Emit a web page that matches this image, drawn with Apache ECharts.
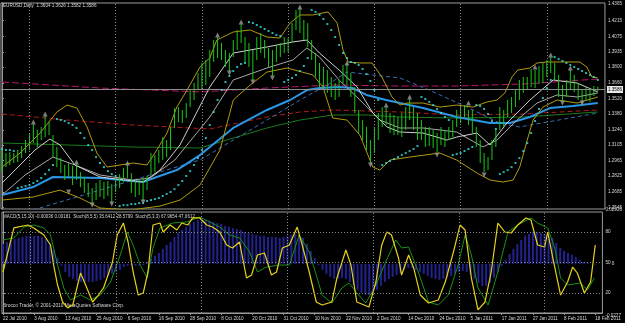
<!DOCTYPE html>
<html>
<head>
<meta charset="utf-8">
<script src="https://cdn.jsdelivr.net/npm/echarts@6/dist/echarts.min.js"></script>
<style>
  html, body { margin: 0; padding: 0; background: #000; }
  #chart { width: 625px; height: 323px; }
</style>
</head>
<body>
<div id="chart"></div>
<script>
/* EURUSD Daily — MT4 style chart, price panel + MACD/Stochastic panel */

// ---- price bars (one per trading day, index 0 = 22 Jul 2010) ----
const barHigh = [
  1.3059,1.3032,1.3041,1.3032,1.3059,1.3095,1.3148,1.3211,1.3291,1.3238,
  1.3265,1.3363,1.3309,1.3193,1.3086,1.2987,1.2925,1.2943,1.2916,1.2934,
  1.2862,1.2818,1.2764,1.2719,1.2764,1.2791,1.2773,1.2782,1.2755,1.2809,
  1.2844,1.2898,1.2925,1.2853,1.2791,1.2791,1.2809,1.2827,1.3032,1.3014,
  1.3059,1.3175,1.3148,1.3265,1.3434,1.3443,1.3417,1.3479,1.3595,1.3658,
  1.3747,1.3837,1.3864,1.3953,1.4042,1.4069,1.4016,1.3953,1.3926,1.4042,
  1.4132,1.4185,1.4069,1.4016,1.3953,1.4069,1.4105,1.4042,1.3971,1.3953,
  1.3998,1.4016,1.4069,1.4060,1.4194,1.4311,1.4320,1.4221,1.4194,1.4042,
  1.3926,1.3837,1.3801,1.3774,1.3712,1.3658,1.3685,1.3819,1.3837,1.3747,
  1.3622,1.3417,1.3327,1.3265,1.3148,1.3265,1.3390,1.3443,1.3443,1.3390,
  1.3372,1.3354,1.3390,1.3443,1.3515,1.3443,1.3390,1.3327,1.3265,1.3265,
  1.3238,1.3211,1.3265,1.3238,1.3265,1.3327,1.3417,1.3443,1.3461,1.3417,
  1.3417,1.3265,1.3148,1.3032,1.2996,1.3148,1.3238,1.3443,1.3417,1.3506,
  1.3533,1.3595,1.3685,1.3712,1.3712,1.3783,1.3774,1.3810,1.3837,1.3864,
  1.3890,1.3837,1.3730,1.3640,1.3685,1.3774,1.3730,1.3658,1.3595,1.3622,
  1.3613,1.3631,1.3626
];
const barLow = [
  1.2862,1.2907,1.2925,1.2943,1.2952,1.2987,1.3032,1.3059,1.3121,1.3086,
  1.3148,1.3175,1.3193,1.2996,1.2907,1.2853,1.2791,1.2818,1.2746,1.2791,
  1.2728,1.2675,1.2639,1.2576,1.2612,1.2639,1.2621,1.2648,1.2585,1.2684,
  1.2719,1.2773,1.2809,1.2675,1.2639,1.2657,1.2603,1.2701,1.2836,1.2862,
  1.2943,1.2970,1.2996,1.3059,1.3256,1.3309,1.3300,1.3345,1.3443,1.3506,
  1.3595,1.3595,1.3640,1.3712,1.3846,1.3881,1.3864,1.3801,1.3765,1.3890,
  1.3953,1.4016,1.3846,1.3801,1.3685,1.3864,1.3926,1.3881,1.3792,1.3721,
  1.3846,1.3890,1.3926,1.3935,1.4016,1.4132,1.4105,1.4042,1.3980,1.3864,
  1.3712,1.3622,1.3622,1.3569,1.3533,1.3506,1.3533,1.3658,1.3640,1.3533,
  1.3390,1.3211,1.3148,1.3059,1.2943,1.3032,1.3148,1.3265,1.3283,1.3211,
  1.3193,1.3193,1.3175,1.3238,1.3327,1.3238,1.3148,1.3148,1.3086,1.3095,
  1.3077,1.3041,1.3104,1.3086,1.3148,1.3175,1.3265,1.3300,1.3354,1.3283,
  1.3211,1.3086,1.2943,1.2862,1.2880,1.2970,1.3086,1.3238,1.3265,1.3354,
  1.3390,1.3443,1.3506,1.3569,1.3595,1.3622,1.3613,1.3649,1.3658,1.3712,
  1.3747,1.3685,1.3533,1.3497,1.3533,1.3595,1.3578,1.3506,1.3461,1.3506,
  1.3488,1.3542,1.3582
];
const currentPrice = 1.3586;

// parabolic SAR, one dot per bar
const sarValues = [
  1.3068,1.3059,1.3059,1.3050,1.2719,1.2728,1.2737,1.2746,1.2764,1.2782,
  1.2809,1.2844,1.2880,1.2925,1.3336,1.3327,1.3318,1.3300,1.3283,1.3256,
  1.3211,1.3166,1.3104,1.3059,1.2996,1.2943,1.2907,1.2871,1.2844,1.2827,
  1.2558,1.2567,1.2567,1.2576,1.2576,1.2585,1.2585,1.2603,1.2612,1.2621,
  1.2630,1.2648,1.2666,1.2684,1.2710,1.2746,1.2782,1.2827,1.2871,1.2925,
  1.2987,1.3059,1.3166,1.3283,1.3399,1.3506,1.3595,1.3667,1.3721,1.3765,
  1.3801,1.3828,1.3837,1.4203,1.4194,1.4176,1.4159,1.4141,1.4123,1.4105,
  1.4087,1.4078,1.3667,1.3685,1.3703,1.3730,1.3765,1.3810,1.3881,1.4311,
  1.4293,1.4266,1.4230,1.4185,1.4132,1.4069,1.3998,1.3926,1.3881,1.3846,
  1.3837,1.3819,1.3783,1.3738,1.3676,1.3595,1.3506,1.2925,1.2943,1.2961,
  1.2979,1.2996,1.3014,1.3032,1.3050,1.3068,1.3095,1.3533,1.3515,1.3488,
  1.3461,1.3426,1.3390,1.3354,1.3327,1.3014,1.3023,1.3032,1.3050,1.3068,
  1.3086,1.3461,1.3452,1.3426,1.3381,1.3318,1.3247,1.2844,1.2862,1.2880,
  1.2907,1.2943,1.2987,1.3050,1.3121,1.3211,1.3318,1.3426,1.3524,1.3613,
  1.3685,1.3890,1.3873,1.3855,1.3837,1.3819,1.3801,1.3783,1.3765,1.3747,
  1.3730,1.3712,1.3685
];

// fractal arrows [bar index, price]
const fractalUp = [
  [8,1.3309],[11,1.3381],[19,1.2952],[32,1.2943],[55,1.4087],[61,1.4203],
  [76,1.4337],[88,1.3837],[98,1.3461],[104,1.3533],[119,1.3479],[136,1.3801],
  [140,1.3908],[145,1.3792]
];
const fractalDown = [
  [17,1.2684],[23,1.2567],[28,1.2576],[36,1.2594],[58,1.3747],[64,1.3667],
  [69,1.3703],[94,1.2925],[111,1.3014],[123,1.2836],[143,1.3479],[148,1.3479]
];

// indicator lines [bar index, price]
const bandUpper = [
  [0,1.2907],[4.6,1.3032],[9.7,1.3211],[14,1.3399],[16.6,1.3461],[19.1,1.3434],
  [21.7,1.3265],[24.2,1.3032],[26.8,1.2907],[30.1,1.2925],[33.4,1.2943],[37,1.2925],
  [39.5,1.3059],[42.1,1.3211],[44.6,1.3443],[47.2,1.3595],[50.5,1.3801],[53,1.3881],
  [54.8,1.4042],[59,1.4114],[63.3,1.4132],[67.6,1.4069],[70.9,1.4060],[73.5,1.4194],
  [76,1.4266],[79.3,1.4266],[83.2,1.4293],[85.5,1.4194],[87,1.3953],[88.3,1.3846],
  [91.3,1.3837],[94.4,1.3837],[96.9,1.3712],[99.5,1.3533],[101.5,1.3461],[103.3,1.3479],
  [107.4,1.3479],[111.7,1.3443],[116,1.3461],[120.2,1.3443],[123.7,1.3488],[126.3,1.3506],
  [128.3,1.3569],[130.1,1.3712],[131.6,1.3774],[134.7,1.3792],[136.5,1.3837],[139,1.3846],
  [143.1,1.3846],[147.4,1.3846],[149.2,1.3801],[150.5,1.3712],[152,1.3703]
];
const bandLower = [
  [0,1.2612],[7.9,1.2639],[14.8,1.2701],[19.9,1.2630],[25,1.2541],[32.7,1.2523],
  [40.3,1.2558],[45.4,1.2612],[50.5,1.2746],[55.6,1.3059],[59,1.3506],[63.3,1.3640],
  [67.6,1.3756],[72.7,1.3792],[79.3,1.3730],[81.9,1.3622],[84.4,1.3345],[88,1.3327],
  [91.3,1.3193],[94.6,1.2907],[96.4,1.2880],[99,1.2970],[104,1.2996],[111.7,1.3032],
  [116,1.2970],[121.2,1.2853],[124.5,1.2791],[127.8,1.2773],[130.4,1.2791],[132.1,1.2907],
  [134,1.3148],[135.5,1.3327],[138,1.3443],[141.6,1.3506],[146.7,1.3479],[152,1.3533]
];
const maFast = [
  [0,1.2764],[4.6,1.2925],[8.4,1.3059],[12.2,1.3157],[14.8,1.3104],[18.6,1.2925],
  [25,1.2818],[31.4,1.2791],[36,1.2773],[40.3,1.2880],[45.4,1.3104],[53,1.3622],
  [59,1.3926],[67.6,1.3980],[74.2,1.4025],[77.8,1.4042],[81,1.3926],[86,1.3774],
  [90.6,1.3622],[94.6,1.3390],[98.2,1.3265],[101.5,1.3220],[107.4,1.3211],[113.5,1.3148],
  [116,1.3175],[121.2,1.3211],[124.5,1.3104],[128.8,1.3300],[134.7,1.3506],[140.6,1.3685],
  [146.7,1.3658],[152,1.3578]
];
const maSlow = [
  [0,1.2657],[5.9,1.2836],[13,1.2996],[18.6,1.2925],[25,1.2836],[33.4,1.2791],
  [37.8,1.2809],[44.1,1.2970],[53,1.3354],[59,1.3685],[67.6,1.3792],[74.2,1.3864],
  [77.8,1.3971],[81,1.3890],[86,1.3685],[91.3,1.3506],[96.4,1.3327],[101.5,1.3256],
  [107.4,1.3256],[116,1.3220],[122.7,1.3086],[126.3,1.3148],[131.4,1.3327],[136.5,1.3479],
  [141.6,1.3551],[146.7,1.3533],[152,1.3569]
];
const maBlue = [
  [0,1.2657],[7.9,1.2728],[13,1.2818],[25,1.2809],[36,1.2773],[39.5,1.2818],
  [44.6,1.2880],[50.5,1.3014],[59,1.3256],[67.6,1.3417],[73.5,1.3506],[77.8,1.3595],
  [81,1.3613],[86,1.3622],[89.5,1.3613],[93,1.3551],[98,1.3506],[101.5,1.3479],
  [107.4,1.3434],[116,1.3354],[124.5,1.3300],[129.6,1.3300],[134.7,1.3354],[139.8,1.3434],
  [145.7,1.3452],[152,1.3479]
];
const maGreen = [
  [0,1.3122],[16.6,1.3104],[33.4,1.3086],[50.5,1.3077],[59,1.3166],[67.6,1.3256],
  [76,1.3327],[84.4,1.3372],[93,1.3372],[101.5,1.3354],[116,1.3345],[133,1.3354],
  [152,1.3399]
];
const maRed = [
  [0,1.3381],[16.6,1.3327],[33.4,1.3283],[53,1.3247],[67.6,1.3354],[76,1.3399],
  [84.4,1.3417],[101.5,1.3399],[116,1.3372],[133,1.3381],[152,1.3417]
];
const maMagenta = [
  [0,1.3667],[25,1.3613],[50.5,1.3578],[67.6,1.3613],[84.4,1.3640],[101.5,1.3631],
  [116,1.3631],[133,1.3649],[152,1.3694]
];
const maSteel = [
  [7.9,1.2523],[25,1.2701],[50.5,1.2970],[59,1.3148],[67.6,1.3327],[76,1.3506],
  [83,1.3640],[88,1.3756],[101.5,1.3703],[109,1.3595],[118.6,1.3443],[127,1.3300],
  [132,1.3265],[142,1.3327],[152,1.3390]
];

// ---- lower panel ----
const macdHist = [
  0.0113,0.0124,0.0135,0.0141,0.0147,0.0152,0.0158,0.0158,0.0158,0.0158,
  0.0152,0.0141,0.0118,0.0079,0.0034,-0.0011,-0.0045,-0.0073,-0.0085,-0.0096,
  -0.0102,-0.0102,-0.0102,-0.0102,-0.0096,-0.0090,-0.0079,-0.0068,-0.0056,-0.0045,
  -0.0034,-0.0017,-0.0011,-0.0006,-0.0011,-0.0011,-0.0006,0.0011,0.0028,0.0045,
  0.0062,0.0085,0.0107,0.0124,0.0152,0.0175,0.0192,0.0209,0.0226,0.0237,
  0.0248,0.0254,0.0248,0.0243,0.0237,0.0231,0.0226,0.0214,0.0209,0.0203,
  0.0197,0.0192,0.0180,0.0175,0.0169,0.0164,0.0158,0.0158,0.0152,0.0152,
  0.0152,0.0147,0.0152,0.0158,0.0164,0.0169,0.0164,0.0147,0.0113,0.0073,
  0.0034,-0.0006,-0.0034,-0.0056,-0.0073,-0.0085,-0.0085,-0.0079,-0.0085,-0.0102,
  -0.0124,-0.0147,-0.0164,-0.0175,-0.0175,-0.0164,-0.0147,-0.0124,-0.0102,-0.0085,
  -0.0073,-0.0062,-0.0051,-0.0034,-0.0023,-0.0023,-0.0034,-0.0045,-0.0056,-0.0068,
  -0.0079,-0.0085,-0.0090,-0.0085,-0.0079,-0.0068,-0.0056,-0.0045,-0.0039,-0.0045,
  -0.0062,-0.0085,-0.0107,-0.0124,-0.0124,-0.0107,-0.0079,-0.0045,-0.0011,0.0023,
  0.0056,0.0085,0.0113,0.0135,0.0158,0.0169,0.0180,0.0180,0.0175,0.0169,
  0.0164,0.0147,0.0118,0.0090,0.0073,0.0062,0.0051,0.0039,0.0023,0.0011,
  0.0006,0.0001,-0.0004
];
const stochFast = [
  [0,40.6],[2.8,84.2],[6.4,87.1],[7.9,84.2],[10.5,77.2],[12.2,67.3],[13,47.5],
  [14,27.7],[15.3,10.9],[16.6,5],[17.9,7.9],[19.9,39.6],[21.2,27.7],[23,10.9],
  [24.5,17.8],[25.8,24.8],[28.1,50.5],[29.3,77.2],[30.9,89.1],[32.1,70.3],[33.4,40.6],
  [34.7,17.8],[36,19.8],[37.2,40.6],[38.5,87.1],[40.3,89.1],[41.1,80.2],[42.9,87.1],
  [44.6,82.2],[45.9,89.1],[47.4,87.1],[48.7,94.1],[50.5,94.1],[52.3,87.1],[53.8,85.1],
  [55.6,80.2],[57.4,67.3],[58.9,64.4],[60.7,70.3],[62.5,34.7],[63.8,37.6],[65.3,57.4],
  [67.1,59.4],[68.9,37.6],[70.2,40.6],[71.7,64.4],[73.5,67.3],[75.5,85.1],[76.8,67.3],
  [78.6,40.6],[80.4,10.9],[81.9,7.9],[84.4,10.9],[85.7,34.7],[88,62.4],[89.3,47.5],
  [90.8,10.9],[93.9,5.9],[95.7,30.7],[97.2,67.3],[98.5,80.2],[99.7,77.2],[101.5,54.5],
  [102.3,37.6],[104.1,57.4],[105.4,44.6],[107.1,17.8],[109.2,9.9],[111.7,12.9],[113.5,30.7],
  [115.6,60.4],[117.3,87.1],[118.6,82.2],[120.2,34.7],[121.9,3],[123.7,10.9],[125.3,40.6],
  [127,89.1],[128.8,80.2],[130.4,79.2],[132.1,87.1],[134.2,94.1],[135.5,92.1],[137.2,67.3],
  [139,65.3],[139.8,80.2],[141.1,54.5],[143.1,17.8],[144.9,30.7],[146.2,45.5],[147.4,39.6],
  [149.2,19.8],[150.8,30.7],[152,67.3]
];
const stochSlow = [
  [0,72.3],[2.8,74.3],[5.4,85.1],[7.9,87.1],[10.5,84.2],[12.2,77.2],[14,47.5],
  [15.6,24.8],[17.3,12.9],[19.9,17.8],[22.4,12.9],[25,17.8],[27.6,30.7],[30.1,57.4],
  [31.9,80.2],[33.4,67.3],[35.2,47.5],[37,34.7],[38.5,64.4],[40.3,84.2],[43.6,89.1],
  [47.2,90.1],[50.5,95],[53.1,90.1],[55.6,85.1],[58.2,77.2],[60.7,74.3],[63.3,60.4],
  [65.3,40.6],[67.6,45.5],[70.9,47.5],[73.5,47.5],[76,77.2],[78.6,60.4],[80.4,37.6],
  [81.9,17.8],[84.4,9.9],[87,24.8],[88.8,29.7],[90.6,20.8],[93.1,9.9],[95.7,27.7],
  [98.2,50.5],[100.8,72.3],[102.3,64.4],[104.1,65.3],[106.6,40.6],[109.2,10.9],[111.7,7.9],
  [114.3,17.8],[116.8,47.5],[118.6,77.2],[120.2,57.4],[121.9,24.8],[124.5,7.9],[127,40.6],
  [129.6,80.2],[132.1,87.1],[135.5,94.1],[137.2,89.1],[139.8,84.2],[141.6,64.4],[143.1,34.7],
  [144.9,27.7],[148.2,29.7],[150,22.8],[151.8,34.7]
];

// ---- axes ----
const priceTicks = [1.4365,1.4215,1.4075,1.3935,1.3800,1.3660,1.3520,1.3380,1.3240,1.3105,1.2965,1.2825,1.2685,1.2545];
const stochTicks = [80, 50, 20];
const macdMax = 0.02926, macdMin = -0.0277;
const dateTicks = [0,8,16,24,32,40,48,56,64,72,80,88,96,104,112,120,128,136,144,152];
const dateLabels = ['22 Jul 2010','3 Aug 2010','13 Aug 2010','25 Aug 2010','6 Sep 2010','16 Sep 2010',
  '28 Sep 2010','8 Oct 2010','20 Oct 2010','31 Oct 2010','10 Nov 2010','22 Nov 2010','2 Dec 2010',
  '14 Dec 2010','24 Dec 2010','5 Jan 2011','17 Jan 2011','27 Jan 2011','8 Feb 2011','18 Feb 2011'];
const gridDays = [7, 29, 51, 73, 95, 117, 139];

const FONT = '"Liberation Sans", Arial, sans-serif';
const TXT = '#d8d8d8';
const FRAME = '#9a9a9a';
const xMin = -0.26, xMax = 153.83;

const chart = echarts.init(document.getElementById('chart'), null, { renderer: 'canvas' });

function lineSeries(name, data, color, width, type) {
  return {
    name: name, type: 'line', xAxisIndex: 0, yAxisIndex: 0,
    data: data, symbol: 'none', silent: true, z: 3,
    lineStyle: { color: color, width: width, type: type || 'solid' }
  };
}

function renderBar(params, api) {
  const top = api.coord([api.value(0), api.value(1)]);
  const bottom = api.coord([api.value(0), api.value(2)]);
  return {
    type: 'line',
    shape: { x1: top[0], y1: top[1], x2: bottom[0], y2: bottom[1] },
    style: { stroke: '#18c818', lineWidth: 1 }
  };
}

const dottedGrid = {
  silent: true, symbol: 'none', animation: false,
  lineStyle: { color: '#8a8a8a', type: [1, 2], width: 1 },
  label: { show: false },
  data: gridDays.map(d => ({ xAxis: d }))
};

const option = {
  backgroundColor: '#000',
  animation: false,
  grid: [
    { left: 1, top: 3, right: 20, height: 206, show: true, borderColor: FRAME, borderWidth: 1, backgroundColor: '#000' },
    { left: 1, top: 212, right: 20, height: 101, show: true, borderColor: FRAME, borderWidth: 1, backgroundColor: '#000' }
  ],
  xAxis: [
    { type: 'value', gridIndex: 0, min: xMin, max: xMax, show: false },
    {
      type: 'value', gridIndex: 1, min: xMin, max: xMax,
      axisLine: { show: true, lineStyle: { color: FRAME } },
      axisTick: { show: true, customValues: dateTicks, length: 2, lineStyle: { color: FRAME } },
      axisLabel: {
        customValues: dateTicks, color: TXT, fontSize: 4.6, fontFamily: FONT,
        align: 'left', margin: 3,
        formatter: v => dateLabels[dateTicks.indexOf(Math.round(v))] || ''
      },
      splitLine: { show: false }
    }
  ],
  yAxis: [
    {
      type: 'value', gridIndex: 0, position: 'right', min: 1.2532, max: 1.4373,
      axisLine: { show: true, lineStyle: { color: FRAME } },
      axisTick: { show: true, customValues: priceTicks, length: 2, lineStyle: { color: FRAME } },
      axisLabel: {
        customValues: priceTicks, color: TXT, fontSize: 4.6, fontFamily: FONT, margin: 3,
        formatter: v => v.toFixed(4)
      },
      splitLine: { show: false }
    },
    {
      type: 'value', gridIndex: 1, position: 'right', min: 0, max: 100,
      axisLine: { show: true, lineStyle: { color: FRAME } },
      axisTick: { show: true, customValues: stochTicks, length: 2, lineStyle: { color: FRAME } },
      axisLabel: { customValues: stochTicks, color: TXT, fontSize: 4.6, fontFamily: FONT, margin: 3 },
      splitLine: { show: false }
    },
    {
      type: 'value', gridIndex: 1, position: 'right', min: macdMin, max: macdMax,
      axisLine: { show: false }, axisTick: { show: false },
      axisLabel: {
        customValues: [macdMax, 0, macdMin], color: TXT, fontSize: 4.6, fontFamily: FONT, margin: 3,
        verticalAlignMaxLabel: 'top', verticalAlignMinLabel: 'bottom',
        formatter: v => v === 0 ? '     0' : String(v)
      },
      splitLine: { show: false }
    }
  ],
  graphic: [
    { type: 'text', left: 3, top: 3, silent: true,
      style: { text: 'EURUSD,Daily  1.3604 1.3626 1.3582 1.3586', fill: TXT, fontSize: 4.6, fontFamily: FONT } },
    { type: 'text', left: 3, top: 214, silent: true,
      style: { text: 'MACD(5,15,10) -0.00036 0.00181  Stoch(8,5,5) 35.6412 28.5799  Stoch(5,3,3) 67.9654 47.0612', fill: TXT, fontSize: 4.5, fontFamily: FONT } },
    { type: 'text', left: 3, top: 303, silent: true,
      style: { text: 'Brocco Trader, \u00a9 2001-2010 MetaQuotes Software Corp.', fill: TXT, fontSize: 4.8, fontFamily: FONT } }
  ],
  series: [
    // long moving averages / levels behind the price
    lineSeries('green', maGreen, '#1c7a1c', 1),
    lineSeries('red', maRed, '#b01a1a', 1, [5, 3]),
    lineSeries('magenta', maMagenta, '#b8186a', 1, [7, 3]),
    lineSeries('steel', maSteel, '#3a6fb0', 1, [4, 3]),
    lineSeries('blue', maBlue, '#2a96e6', 2),
    lineSeries('bandUpper', bandUpper, '#b09a10', 1),
    lineSeries('bandLower', bandLower, '#b09a10', 1),
    lineSeries('maSlow', maSlow, '#a8a8a8', 1),
    lineSeries('maFast', maFast, '#d0d0d0', 1),
    {
      name: 'bars', type: 'custom', xAxisIndex: 0, yAxisIndex: 0, clip: true, z: 4,
      renderItem: renderBar,
      encode: { x: 0, y: [1, 2] },
      data: barHigh.map((h, i) => [i, h, barLow[i]]),
      markLine: {
        silent: true, symbol: 'none',
        lineStyle: { color: '#8c8c8c', type: 'solid', width: 1 },
        label: {
          position: 'end', distance: 2, formatter: currentPrice.toFixed(4),
          backgroundColor: '#e8e8e8', color: '#000', fontSize: 4.6, fontFamily: FONT, padding: [1, 1]
        },
        data: [{ yAxis: currentPrice }]
      }
    },
    {
      name: 'sar', type: 'scatter', xAxisIndex: 0, yAxisIndex: 0, z: 5, silent: true,
      symbol: 'rect', symbolSize: 2,
      itemStyle: { color: '#35e0e0' },
      data: sarValues.map((v, i) => [i, v])
    },
    {
      name: 'fractalUp', type: 'scatter', xAxisIndex: 0, yAxisIndex: 0, z: 5, silent: true,
      symbol: 'triangle', symbolSize: [5, 5],
      itemStyle: { color: '#9a9a9a' },
      data: fractalUp
    },
    {
      name: 'fractalDown', type: 'scatter', xAxisIndex: 0, yAxisIndex: 0, z: 5, silent: true,
      symbol: 'triangle', symbolRotate: 180, symbolSize: [5, 5],
      itemStyle: { color: '#9a9a9a' },
      data: fractalDown
    },
    {
      name: 'gridMain', type: 'line', xAxisIndex: 0, yAxisIndex: 0, data: [], z: 1,
      markLine: dottedGrid
    },
    // lower panel
    {
      name: 'macd', type: 'bar', xAxisIndex: 1, yAxisIndex: 2, barWidth: 2, z: 2, silent: true,
      itemStyle: { color: '#22228e' },
      data: macdHist.map((v, i) => [i, v]),
      markLine: dottedGrid
    },
    {
      name: 'stochSlow', type: 'line', xAxisIndex: 1, yAxisIndex: 1, symbol: 'none', z: 3, silent: true,
      lineStyle: { color: '#1a8f1a', width: 1 },
      data: stochSlow,
      markLine: {
        silent: true, symbol: 'none',
        lineStyle: { color: '#8a8a8a', type: [1, 2], width: 1 },
        label: { show: false },
        data: stochTicks.map(v => ({ yAxis: v }))
      }
    },
    {
      name: 'stochFast', type: 'line', xAxisIndex: 1, yAxisIndex: 1, symbol: 'none', z: 4, silent: true,
      lineStyle: { color: '#e6d21a', width: 1.2 },
      data: stochFast
    }
  ]
};

chart.setOption(option);
</script>
</body>
</html>
